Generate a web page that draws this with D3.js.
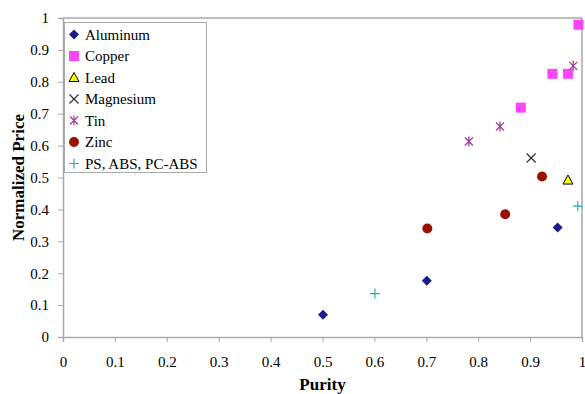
<!DOCTYPE html>
<html><head><meta charset="utf-8">
<script src="https://cdn.jsdelivr.net/npm/d3@7"></script>
<style>body{margin:0;background:#fff}svg text{font-family:"Liberation Serif","Times New Roman",serif !important}</style>
</head><body><svg id="c" width="585" height="394"></svg>
<script>
const seriesNames = ["Aluminum","Copper","Lead","Magnesium","Tin","Zinc","PS, ABS, PC-ABS"];
const aluminum = [[0.501,0.070],[0.701,0.176],[0.953,0.343]];
const copper = [[0.882,0.719],[0.943,0.825],[0.973,0.825],[0.993,0.979]];
const lead = [[0.973,0.492]];
const magnesium = [[0.902,0.561]];
const tin = [[0.782,0.613],[0.842,0.660],[0.983,0.850]];
const zinc = [[0.702,0.340],[0.852,0.385],[0.923,0.503]];
const plastics = [[0.601,0.136],[0.992,0.410]];
const xTicks = [0,0.1,0.2,0.3,0.4,0.5,0.6,0.7,0.8,0.9,1];
const yTicks = [0,0.1,0.2,0.3,0.4,0.5,0.6,0.7,0.8,0.9,1];

const data = [aluminum,copper,lead,magnesium,tin,zinc,plastics];
const colors = ["#1a1a8c","#ff44ff","#ffff00","#333333","#a040a0","#991100","#33aaaa"];
const svg = d3.select("#c");
const L=63,R=582,T=18,B=337;
const x = d3.scaleLinear().domain([0,1]).range([L,R]);
const y = d3.scaleLinear().domain([0,1]).range([B,T]);
const axisCol="#aaaaaa";
const serif = "'Liberation Serif','Times New Roman',serif";

// frame
svg.append("line").attr("x1",L).attr("x2",R).attr("y1",T).attr("y2",T).attr("stroke",axisCol).attr("stroke-width",1.5);
svg.append("line").attr("x1",R).attr("x2",R).attr("y1",T).attr("y2",B).attr("stroke",axisCol).attr("stroke-width",1.5);

const fmt = d=> d===0?"0":d===1?"1":d3.format(".1f")(d);
const gx = svg.append("g").attr("transform",`translate(0,${B})`)
  .call(d3.axisBottom(x).tickValues(xTicks).tickFormat(fmt).tickSize(5).tickPadding(14));
const gy = svg.append("g").attr("transform",`translate(${L},0)`)
  .call(d3.axisLeft(y).tickValues(yTicks).tickFormat(fmt).tickSize(5).tickPadding(9));
[gx,gy].forEach(g=>{
  g.attr("font-family",serif);
  g.select(".domain").attr("stroke",axisCol).attr("stroke-width",1.5);
  g.selectAll(".tick line").attr("stroke",axisCol);
  g.selectAll(".tick text").attr("font-size",15).attr("fill","#000").style("font-family",serif);
});

svg.append("text").attr("x",(L+R)/2).attr("y",390).attr("text-anchor","middle").style("font-family",serif)
  .attr("font-weight","bold").attr("font-size",17).text("Purity");
svg.append("text").attr("transform",`translate(24,${(T+B)/2}) rotate(-90)`).attr("text-anchor","middle").style("font-family",serif)
  .attr("font-weight","bold").attr("font-size",17).text("Normalized Price");

function marker(g,i,cx,cy){
  const c=colors[i];
  if(i===0){ g.append("path").attr("d",`M${cx},${cy-5}L${cx+5},${cy}L${cx},${cy+5}L${cx-5},${cy}Z`).attr("fill",c); }
  else if(i===1){ g.append("rect").attr("x",cx-5).attr("y",cy-5).attr("width",10).attr("height",10).attr("fill",c); }
  else if(i===2){ g.append("path").attr("d",`M${cx},${cy-5}L${cx+5},${cy+4}L${cx-5},${cy+4}Z`).attr("fill",c).attr("stroke","#000").attr("stroke-width",1); }
  else if(i===3){ g.append("path").attr("d",`M${cx-4.5},${cy-4.5}L${cx+4.5},${cy+4.5}M${cx+4.5},${cy-4.5}L${cx-4.5},${cy+4.5}`).attr("stroke",c).attr("stroke-width",1.2); }
  else if(i===4){ g.append("path").attr("d",`M${cx-4},${cy-4}L${cx+4},${cy+4}M${cx+4},${cy-4}L${cx-4},${cy+4}M${cx},${cy-5}L${cx},${cy+5}`).attr("stroke",c).attr("stroke-width",1.3); }
  else if(i===5){ g.append("circle").attr("cx",cx).attr("cy",cy).attr("r",5).attr("fill",c); }
  else { g.append("path").attr("d",`M${cx-5},${cy}L${cx+5},${cy}M${cx},${cy-5}L${cx},${cy+5}`).attr("stroke",c).attr("stroke-width",1.2); }
}

const pts = svg.append("g");
data.forEach((arr,i)=>arr.forEach(d=>marker(pts,i,x(d[0]),y(d[1]))));

// legend
const lg = svg.append("g");
lg.append("rect").attr("x",64.5).attr("y",22.5).attr("width",142).attr("height",150).attr("fill","#fff").attr("stroke","#aaaaaa");
seriesNames.forEach((n,i)=>{
  const yy = 34.5 + i*21.5;
  marker(lg,i,74,yy);
  lg.append("text").attr("x",85).attr("y",yy+5).attr("font-size",15).style("font-family",serif).text(n);
});
</script></body></html>
